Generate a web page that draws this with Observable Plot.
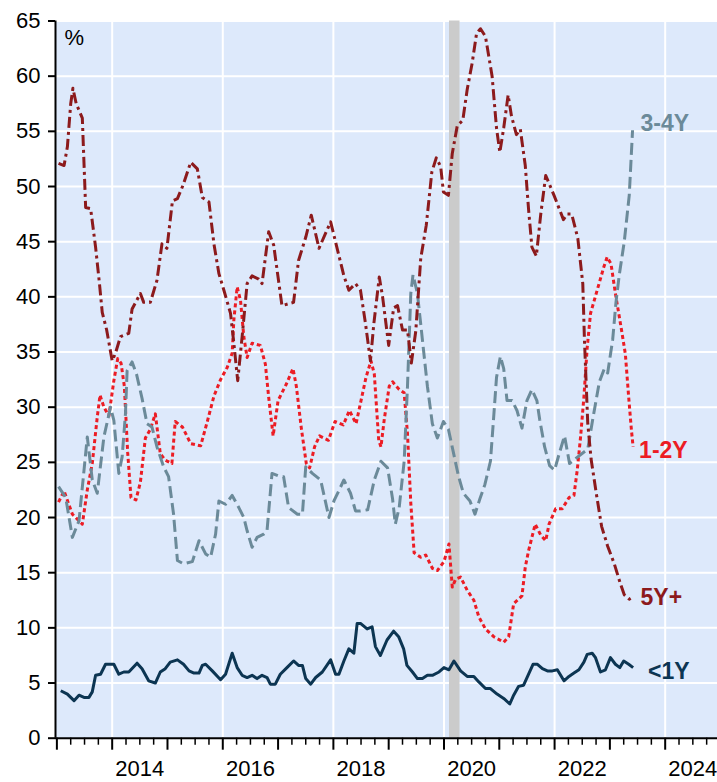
<!DOCTYPE html>
<html>
<head>
<meta charset="utf-8">
<script src="https://cdn.jsdelivr.net/npm/d3@7"></script>
<script src="https://cdn.jsdelivr.net/npm/@observablehq/plot@0.6"></script>
<style>
  body { margin: 0; background: #fff; }
  #chart svg { display: block; }
</style>
</head>
<body>
<div id="chart"></div>
<script>
// Series: [decimal year, percent]
const under1Y = [[2013.07,4.3],[2013.19,4.0],[2013.31,3.4],[2013.40,3.9],[2013.49,3.7],[2013.58,3.7],[2013.64,4.2],[2013.70,5.7],[2013.79,5.8],[2013.88,6.7],[2014.03,6.7],[2014.12,5.8],[2014.21,6.0],[2014.30,6.0],[2014.45,6.8],[2014.54,6.3],[2014.66,5.2],[2014.78,5.0],[2014.87,6.0],[2014.96,6.3],[2015.05,6.9],[2015.18,7.1],[2015.29,6.7],[2015.39,6.1],[2015.48,5.9],[2015.57,5.9],[2015.63,6.6],[2015.69,6.7],[2015.81,6.1],[2015.96,5.3],[2016.05,5.8],[2016.17,7.7],[2016.26,6.4],[2016.35,5.7],[2016.44,5.5],[2016.53,5.7],[2016.62,5.4],[2016.71,5.7],[2016.80,5.5],[2016.86,4.9],[2016.95,4.9],[2017.04,5.8],[2017.16,6.4],[2017.28,7.0],[2017.37,6.6],[2017.44,6.6],[2017.50,5.4],[2017.59,4.9],[2017.68,5.5],[2017.80,6.0],[2017.95,7.1],[2018.04,5.8],[2018.10,5.8],[2018.19,7.0],[2018.28,8.1],[2018.37,7.7],[2018.43,10.4],[2018.49,10.4],[2018.61,9.9],[2018.70,10.1],[2018.76,8.3],[2018.85,7.5],[2018.97,8.9],[2019.09,9.7],[2019.18,9.2],[2019.27,8.1],[2019.33,6.6],[2019.43,6.0],[2019.52,5.4],[2019.61,5.4],[2019.70,5.7],[2019.79,5.7],[2019.91,6.0],[2020.00,6.4],[2020.09,6.2],[2020.18,7.0],[2020.30,6.1],[2020.42,5.6],[2020.54,5.6],[2020.63,5.1],[2020.75,4.5],[2020.84,4.5],[2020.96,4.0],[2021.08,3.6],[2021.19,3.1],[2021.26,3.9],[2021.35,4.7],[2021.44,4.8],[2021.53,5.8],[2021.61,6.7],[2021.69,6.7],[2021.78,6.3],[2021.87,6.1],[2021.96,6.1],[2022.05,6.2],[2022.17,5.2],[2022.26,5.6],[2022.35,5.9],[2022.44,6.2],[2022.53,6.9],[2022.59,7.6],[2022.68,7.7],[2022.74,7.3],[2022.83,6.0],[2022.92,6.2],[2023.01,7.3],[2023.10,6.7],[2023.18,6.4],[2023.25,7.0],[2023.34,6.7],[2023.42,6.4]];

const oneTo2Y = [[2013.03,21.4],[2013.13,22.4],[2013.23,21.0],[2013.28,20.3],[2013.46,19.4],[2013.55,22.5],[2013.64,24.9],[2013.73,29.1],[2013.78,31.1],[2013.85,30.0],[2013.94,29.2],[2014.03,32.4],[2014.10,34.4],[2014.16,34.0],[2014.22,31.9],[2014.28,25.9],[2014.34,21.8],[2014.43,21.6],[2014.51,23.2],[2014.60,27.2],[2014.69,28.0],[2014.78,29.4],[2014.87,25.8],[2014.96,25.2],[2015.08,24.9],[2015.14,28.7],[2015.27,28.2],[2015.42,26.7],[2015.60,26.5],[2015.72,28.7],[2015.84,31.0],[2015.96,32.5],[2016.08,33.6],[2016.17,34.9],[2016.20,37.9],[2016.26,40.9],[2016.32,39.7],[2016.38,36.4],[2016.44,34.5],[2016.53,35.8],[2016.68,35.6],[2016.77,33.9],[2016.83,30.9],[2016.91,27.4],[2017.00,30.6],[2017.15,32.1],[2017.27,33.5],[2017.33,31.9],[2017.42,28.1],[2017.51,24.9],[2017.57,24.5],[2017.66,26.4],[2017.75,27.4],[2017.91,27.0],[2018.03,28.7],[2018.18,28.4],[2018.29,29.7],[2018.41,28.5],[2018.50,30.6],[2018.59,32.7],[2018.68,34.2],[2018.74,33.0],[2018.82,27.0],[2018.86,26.4],[2018.92,28.9],[2019.01,31.9],[2019.07,32.3],[2019.19,31.6],[2019.28,31.3],[2019.34,27.6],[2019.40,21.3],[2019.46,16.8],[2019.58,16.4],[2019.67,16.6],[2019.79,15.4],[2019.88,15.2],[2020.00,16.0],[2020.09,17.6],[2020.15,13.7],[2020.21,14.4],[2020.30,14.6],[2020.42,13.4],[2020.54,12.5],[2020.63,11.0],[2020.75,9.9],[2020.90,9.2],[2021.08,8.7],[2021.17,9.2],[2021.26,12.2],[2021.41,12.9],[2021.47,15.5],[2021.53,17.0],[2021.65,19.4],[2021.75,18.4],[2021.84,17.9],[2021.90,19.4],[2022.02,20.8],[2022.14,20.8],[2022.26,21.8],[2022.35,22.0],[2022.41,24.3],[2022.47,27.3],[2022.53,30.9],[2022.59,35.4],[2022.65,38.5],[2022.77,40.6],[2022.89,42.7],[2022.95,43.6],[2023.02,43.0],[2023.10,40.3],[2023.22,36.7],[2023.28,34.8],[2023.34,30.9],[2023.39,27.9],[2023.42,26.4]];

const threeTo4Y = [[2013.03,22.8],[2013.16,21.8],[2013.28,18.2],[2013.40,19.7],[2013.55,27.3],[2013.64,23.4],[2013.73,22.2],[2013.85,27.3],[2013.97,30.0],[2014.03,28.8],[2014.12,24.0],[2014.18,25.5],[2014.24,29.4],[2014.27,33.3],[2014.36,34.1],[2014.44,33.0],[2014.54,30.8],[2014.63,28.5],[2014.72,28.2],[2014.81,26.4],[2014.93,24.6],[2015.02,23.7],[2015.11,20.3],[2015.18,16.1],[2015.29,15.8],[2015.45,16.0],[2015.57,17.9],[2015.69,16.7],[2015.78,16.4],[2015.87,18.5],[2015.93,21.5],[2016.05,21.2],[2016.17,22.0],[2016.29,20.9],[2016.38,20.0],[2016.44,18.8],[2016.53,17.3],[2016.62,18.2],[2016.74,18.5],[2016.80,18.8],[2016.89,24.0],[2017.04,23.7],[2017.10,23.7],[2017.19,20.9],[2017.35,20.3],[2017.44,20.3],[2017.50,24.6],[2017.62,24.0],[2017.77,23.4],[2017.92,20.0],[2018.01,21.5],[2018.19,23.4],[2018.31,22.2],[2018.40,20.6],[2018.49,20.6],[2018.62,20.7],[2018.74,23.4],[2018.86,25.1],[2018.98,24.5],[2019.07,21.7],[2019.12,19.4],[2019.19,20.9],[2019.28,25.1],[2019.34,31.9],[2019.40,40.3],[2019.44,42.0],[2019.52,40.3],[2019.61,36.1],[2019.70,31.9],[2019.79,28.5],[2019.88,27.2],[2019.99,28.7],[2020.08,28.0],[2020.17,25.9],[2020.26,23.8],[2020.35,22.2],[2020.47,21.5],[2020.56,20.3],[2020.65,21.7],[2020.74,23.0],[2020.84,25.1],[2020.89,28.5],[2020.95,32.7],[2021.02,34.6],[2021.08,33.5],[2021.14,30.6],[2021.23,30.6],[2021.32,29.7],[2021.41,28.1],[2021.50,30.6],[2021.59,31.6],[2021.68,30.6],[2021.73,28.9],[2021.82,26.4],[2021.91,24.7],[2022.00,24.3],[2022.09,25.9],[2022.18,27.4],[2022.27,24.9],[2022.42,25.5],[2022.60,26.2],[2022.69,28.9],[2022.81,32.3],[2022.90,33.5],[2022.96,33.1],[2023.05,36.1],[2023.11,39.5],[2023.17,42.0],[2023.26,45.0],[2023.35,49.2],[2023.41,55.1]];

const fiveYPlus = [[2013.03,52.1],[2013.13,51.9],[2013.19,53.6],[2013.25,57.5],[2013.29,58.9],[2013.35,57.5],[2013.46,56.2],[2013.52,48.1],[2013.61,48.0],[2013.70,44.5],[2013.77,41.2],[2013.82,38.6],[2013.90,37.0],[2014.00,34.2],[2014.06,34.9],[2014.15,36.4],[2014.30,36.7],[2014.36,38.9],[2014.51,40.3],[2014.57,39.5],[2014.69,39.5],[2014.81,41.5],[2014.90,44.8],[2014.99,44.4],[2015.09,48.7],[2015.18,48.9],[2015.28,50.1],[2015.42,52.2],[2015.54,51.6],[2015.63,49.0],[2015.75,48.6],[2015.84,44.8],[2015.93,42.1],[2016.02,40.6],[2016.14,38.5],[2016.20,35.8],[2016.27,32.4],[2016.35,36.4],[2016.44,41.2],[2016.53,41.9],[2016.65,41.6],[2016.71,41.2],[2016.83,45.9],[2016.92,44.7],[2017.07,39.2],[2017.28,39.5],[2017.37,43.3],[2017.50,45.4],[2017.60,47.4],[2017.74,44.4],[2017.95,46.8],[2018.19,41.9],[2018.28,40.6],[2018.40,41.2],[2018.49,40.6],[2018.58,37.6],[2018.67,34.2],[2018.73,37.5],[2018.83,41.8],[2018.89,40.0],[2019.00,35.6],[2019.09,39.0],[2019.16,39.2],[2019.25,37.0],[2019.34,37.0],[2019.41,34.0],[2019.49,36.9],[2019.58,43.5],[2019.68,46.5],[2019.78,51.3],[2019.86,52.6],[2019.94,51.8],[2019.99,49.5],[2020.08,49.2],[2020.15,53.0],[2020.24,55.5],[2020.34,56.0],[2020.42,58.8],[2020.51,61.2],[2020.59,63.9],[2020.66,64.3],[2020.75,63.6],[2020.87,60.0],[2020.95,55.3],[2021.01,53.1],[2021.08,55.3],[2021.16,58.3],[2021.22,56.4],[2021.31,54.7],[2021.38,55.2],[2021.47,51.9],[2021.53,47.9],[2021.59,44.5],[2021.67,43.7],[2021.75,47.5],[2021.84,51.0],[2021.99,49.2],[2022.16,47.0],[2022.23,47.5],[2022.31,47.5],[2022.42,45.3],[2022.51,41.2],[2022.54,36.1],[2022.60,28.5],[2022.66,25.3],[2022.76,22.0],[2022.85,19.2],[2022.96,17.4],[2023.08,15.8],[2023.19,14.0],[2023.26,13.0],[2023.35,12.6],[2023.41,12.8]];

const recessions = [{start: 2020.10, end: 2020.29}];
const seriesNames = ["<1Y", "1-2Y", "3-4Y", "5Y+"];
const yTicks = [0, 5, 10, 15, 20, 25, 30, 35, 40, 45, 50, 55, 60, 65];
const yearTicks = [2013, 2014, 2015, 2016, 2017, 2018, 2019, 2020, 2021, 2022, 2023, 2024];
const labelYears = [2014, 2016, 2018, 2020, 2022, 2024];
const xDomain = [2012.975, 2024.946];

const colors = {"<1Y": "#0c3552", "1-2Y": "#ec1c24", "3-4Y": "#6b8a99", "5Y+": "#8c1a1c"};
const last = arr => arr[arr.length - 1];
const quarterTicks = d3.range(xDomain[0], xDomain[1], 0.25).length ? d3.range(2013, 2025, 0.25).filter(v => v % 1 !== 0) : [];

const font = "'Liberation Sans', Arial, sans-serif";

function seriesLine(data, name, dash) {
  return Plot.line(data, {
    x: d => d[0], y: d => d[1],
    stroke: colors[name], strokeWidth: 3,
    strokeDasharray: dash, strokeLinecap: "butt", strokeLinejoin: "round"
  });
}
function seriesLabel(data, name, dx, dy) {
  return Plot.text([last(data)], {
    x: d => d[0], y: d => d[1], text: () => name,
    fill: colors[name], fontWeight: "bold", fontSize: 23, fontFamily: font,
    textAnchor: "start", dx, dy
  });
}

const chart = Plot.plot({
  width: 717,
  height: 782,
  marginLeft: 55,
  marginRight: 0,
  marginTop: 20.5,
  marginBottom: 44.3,
  style: {fontFamily: font, background: "#fff", overflow: "visible"},
  x: {type: "linear", domain: xDomain, axis: null},
  y: {domain: [0, 65], axis: null},
  marks: [
    Plot.frame({fill: "#dde9fb", stroke: null}),
    Plot.ruleX(labelYears, {stroke: "#fff", strokeWidth: 2}),
    Plot.ruleY(yTicks.filter(v => v > 0), {stroke: "#fff", strokeWidth: 2}),
    Plot.rect(recessions, {x1: "start", x2: "end", fill: "#cbcbcb"}),
    seriesLine(oneTo2Y, "1-2Y", "4,3"),
    seriesLine(threeTo4Y, "3-4Y", "12,5"),
    seriesLine(fiveYPlus, "5Y+", "11,4,3,4"),
    seriesLine(under1Y, "<1Y", null),
    seriesLabel(threeTo4Y, "3-4Y", 8, -7),
    seriesLabel(oneTo2Y, "1-2Y", 6, 4),
    seriesLabel(fiveYPlus, "5Y+", 8, 1),
    seriesLabel(under1Y, "<1Y", 15, 4),
    Plot.text(["%"], {frameAnchor: "top-left", dx: 9, dy: 8, fontSize: 22, fontFamily: font, fill: "#000", lineAnchor: "top"}),
    Plot.axisY(yTicks, {tickSize: 7, tickPadding: 8, fontSize: 22, strokeWidth: 2, fill: "#000", stroke: "#000", tickFormat: d => String(d)}),
    Plot.axisX(yearTicks, {tickSize: 12, strokeWidth: 2, stroke: "#000", tickFormat: () => ""}),
    Plot.axisX(quarterTicks, {tickSize: 7, strokeWidth: 1.5, stroke: "#000", tickFormat: () => ""}),
    Plot.axisX(labelYears.map(y => y + 0.5), {tickSize: 0, tickPadding: 22, fontSize: 22, fill: "#000", tickFormat: d => String(Math.floor(d))}),
    Plot.ruleX([xDomain[0]], {stroke: "#000", strokeWidth: 2}),
    Plot.ruleY([0], {stroke: "#000", strokeWidth: 2})
  ]
});
document.getElementById("chart").appendChild(chart);
</script>
</body>
</html>
